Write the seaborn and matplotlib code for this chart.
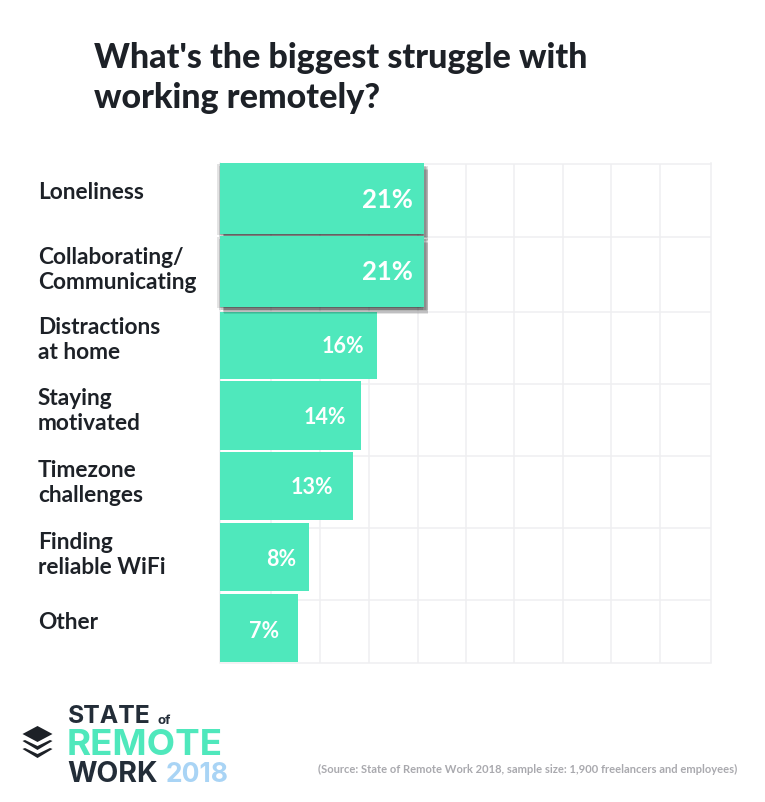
import matplotlib
matplotlib.use("Agg")
import matplotlib.pyplot as plt
import matplotlib.patheffects as pe
from matplotlib.patches import Polygon
import seaborn as sns
import pandas as pd

# data
categories = ["Loneliness", "Collaborating/\nCommunicating", "Distractions\nat home",
              "Staying\nmotivated", "Timezone\nchallenges", "Finding\nreliable WiFi", "Other"]
bar_lengths = [20.8, 20.8, 16.0, 14.4, 13.5, 9.1, 7.9]
bar_labels = ["21%", "21%", "16%", "14%", "13%", "8%", "7%"]

W, H = 765, 803
TEAL = "#4fe8bc"
GRID = "#efeff1"
DARK = "#1d2127"
NAVY = "#232d38"

sns.set_theme(style="white")
plt.rcParams["font.family"] = ["Lato", "DejaVu Sans"]

fig = plt.figure(figsize=(W / 100, H / 100), dpi=100, facecolor="white")

# pixel helpers for the layout
LEFT, RIGHT, TOP, BOTTOM = 220, 711, 164.5, 663.5
ax = fig.add_axes([LEFT / W, 1 - BOTTOM / H, (RIGHT - LEFT) / W, (BOTTOM - TOP) / H])

df = pd.DataFrame({"category": categories, "share": bar_lengths})
sns.barplot(data=df, x="share", y="category", color=TEAL, saturation=1, width=1,
            orient="h", ax=ax, zorder=3)
ax.set_xlim(0, 50)
ax.set_ylim(6.5, -0.5)
ax.set_xlabel("")
ax.set_ylabel("")
row_px = (BOTTOM - TOP) / 7
col_px = (RIGHT - LEFT) / 50


def py(px):
    return (px - TOP) / row_px - 0.5


# grid, the lines sit slightly off the even 5% steps
ax.set_xticks([(p - LEFT) / col_px for p in [271, 320, 369, 417.5, 466, 514, 563, 611, 660]])
ax.set_yticks([py(p) for p in [238, 313, 385, 457, 529, 601]])
ax.tick_params(left=False, bottom=False, labelleft=False, labelbottom=False)
ax.grid(True, color=GRID, lw=1.1)
ax.set_axisbelow(True)
for s in ax.spines.values():
    s.set_color(GRID)
    s.set_linewidth(1.1)
    s.set_zorder(1)

# bars are not evenly spaced in the original, top/bottom pixel of each
bar_spans = [(164, 235), (237, 308), (313, 380), (382, 451), (453, 521), (524, 592), (595, 663)]
# stacked patch shadows give a soft edge
soft_shadow = [pe.SimplePatchShadow(offset=off, shadow_rgbFace="black", alpha=0.11)
               for off in [(-2, -1), (-1, -2), (0, -1), (1, -2), (2, -3), (2.5, -4), (3, -5), (3, -2)]]
for i, patch in enumerate(ax.patches):
    top, bot = bar_spans[i]
    patch.set_y(py(top))
    patch.set_height((bot - top) / row_px)
    patch.set_edgecolor("none")
    if i < 2:
        patch.set_zorder(5)
        patch.set_clip_on(False)
        patch.set_path_effects(soft_shadow + [pe.Normal()])

# value labels
label_right = [11, 11, 13, 15, 19, 13, 18]
label_y = [198, 270, 345, 416, 486, 558, 630]
label_size = [18.5, 18.5, 15.5, 15.5, 15.5, 15.5, 15.5]
for i, txt in enumerate(bar_labels):
    ax.annotate(txt, xy=(bar_lengths[i], py(label_y[i])), xytext=(-label_right[i], 0),
                textcoords="offset pixels", ha="right", va="center_baseline", color="white",
                fontsize=label_size[i], fontweight="bold", zorder=6)

# category labels
cat_y = [193, 270, 340, 411, 483, 555, 623]
for i, txt in enumerate(categories):
    ax.annotate(txt, xy=(0, py(cat_y[i])), xytext=(38 - LEFT, 0), textcoords="offset pixels",
                ha="left", va="center", color=DARK, fontsize=16.3, fontweight="bold",
                linespacing=1.18, annotation_clip=False)

# title
fig.text(94 / W, 1 - 58 / H, "What's the biggest struggle with", fontsize=24.5, fontweight="black",
         color=DARK, ha="left", va="center")
fig.text(94 / W, 1 - 97.5 / H, "working remotely?", fontsize=24.5, fontweight="black",
         color=DARK, ha="left", va="center")

# source
fig.text(737 / W, 1 - 769 / H, "(Source: State of Remote Work 2018, sample size: 1,900 freelancers and employees)",
         fontsize=8.05, fontweight="bold", color="#a9a9ae", ha="right", va="center")

# logo
for x, y, txt, size, col in [(68, 717, "STATE", 17.8, NAVY), (158, 721, "of", 9.5, NAVY),
                             (67, 746, "REMOTE", 26.5, TEAL), (67, 775, "WORK", 20.5, NAVY),
                             (166, 775, "2018", 19, "#a9d4f5")]:
    fig.text(x / W, 1 - y / H, txt, fontsize=size, fontweight="bold", color=col, ha="left", va="center",
             family=["Inter", "DejaVu Sans"])

# layered icon
cx = 37.5
top_diamond = [(cx - 15, 735), (cx, 727), (cx + 15, 735), (cx, 743)]
fig.add_artist(Polygon([(x / W, 1 - y / H) for x, y in top_diamond], transform=fig.transFigure,
                       facecolor=DARK, edgecolor="none"))
for dy in [0, 8]:
    chev = [(cx - 15, 742 + dy), (cx - 12.5, 741 + dy), (cx, 747 + dy), (cx + 12.5, 741 + dy),
            (cx + 15, 742 + dy), (cx, 751 + dy)]
    fig.add_artist(Polygon([(x / W, 1 - y / H) for x, y in chev], transform=fig.transFigure,
                           facecolor=DARK, edgecolor="none"))

fig.savefig("out.png", dpi=100)
